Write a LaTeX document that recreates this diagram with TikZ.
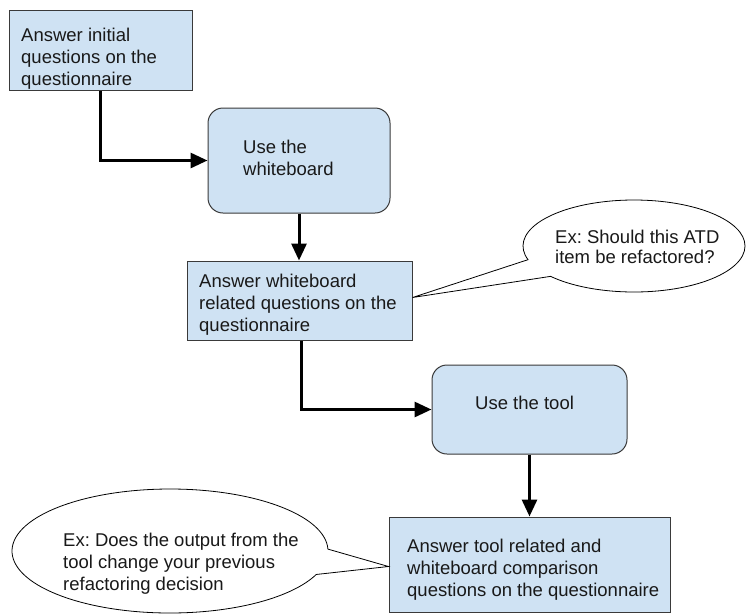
\documentclass[tikz,border=0pt]{standalone}
\usepackage{fontspec}
\setmainfont{Liberation Sans}
\usetikzlibrary{arrows.meta,shapes.callouts}
\frenchspacing

\definecolor{boxfill}{HTML}{CFE2F3}
\definecolor{boxline}{HTML}{3A3A3A}

\tikzset{
  sqbox/.style={draw=boxline, line width=1pt, fill=boxfill, rectangle, inner sep=0pt},
  rndbox/.style={sqbox, rounded corners=15pt},
  txt/.style={anchor=north west, inner sep=0pt, align=left,
    font=\fontsize{18.5}{22}\selectfont, text=black!90},
  bubble/.style={ellipse callout, draw=black, line width=0.8pt, fill=white,
    inner sep=0pt, callout pointer arc=24},
  flow/.style={line width=3pt, -{Triangle[length=17pt,width=15pt]}},
}

\begin{document}
\begin{tikzpicture}[x=1pt, y=-1pt]
  \path[use as bounding box, fill=white] (0,0) rectangle (747,614);

  % process boxes
  \node[sqbox, minimum width=183pt, minimum height=80pt] (b1) at (100.5,50) {};
  \node[rndbox, minimum width=182pt, minimum height=105pt] (b2) at (299,160.5) {};
  \node[sqbox, minimum width=225pt, minimum height=79pt] (b3) at (299.5,300.5) {};
  \node[rndbox, minimum width=195pt, minimum height=89pt] (b4) at (529.5,409.5) {};
  \node[sqbox, minimum width=281pt, minimum height=95pt] (b5) at (529.5,564.5) {};

  % speech bubbles pointing at the questionnaire steps
  \node[bubble, minimum width=222pt, minimum height=92pt,
        callout absolute pointer={([yshift=3pt]b3.east)}] (c1) at (634,246) {};
  \node[bubble, minimum width=316pt, minimum height=124pt,
        callout absolute pointer={([yshift=-2pt]b5.west)}] (c2) at (170,551) {};

  % texts
  \node[txt] (t1) at (21,27.7) {Answer initial\\questions on the\\questionnaire};
  \node[txt] (t2) at (243,139.7) {Use the\\whiteboard};
  \node[txt] (t3) at (199,273.7) {Answer whiteboard\\related questions on the\\questionnaire};
  \node[txt] (t4) at (475,395.7) {Use the tool};
  \node[txt] (t5) at (407,538.4) {Answer tool related and\\whiteboard comparison\\questions on the questionnaire};
  \node[txt, font=\fontsize{18.5}{20}\selectfont] (t6) at (555,229.7) {Ex: Should this ATD\\item be refactored?};
  \node[txt] (t7) at (63,532.7) {Ex: Does the output from the\\tool change your previous\\refactoring decision};

  % flow connectors
  \draw[flow] (b1.south) |- (b2.west);
  \draw[flow] (b2.south) -- (b2.south |- b3.north);
  \draw[flow] ([xshift=2pt]b3.south) |- (b4.west);
  \draw[flow] (b4.south) -- (b4.south |- b5.north);
\end{tikzpicture}
\end{document}
